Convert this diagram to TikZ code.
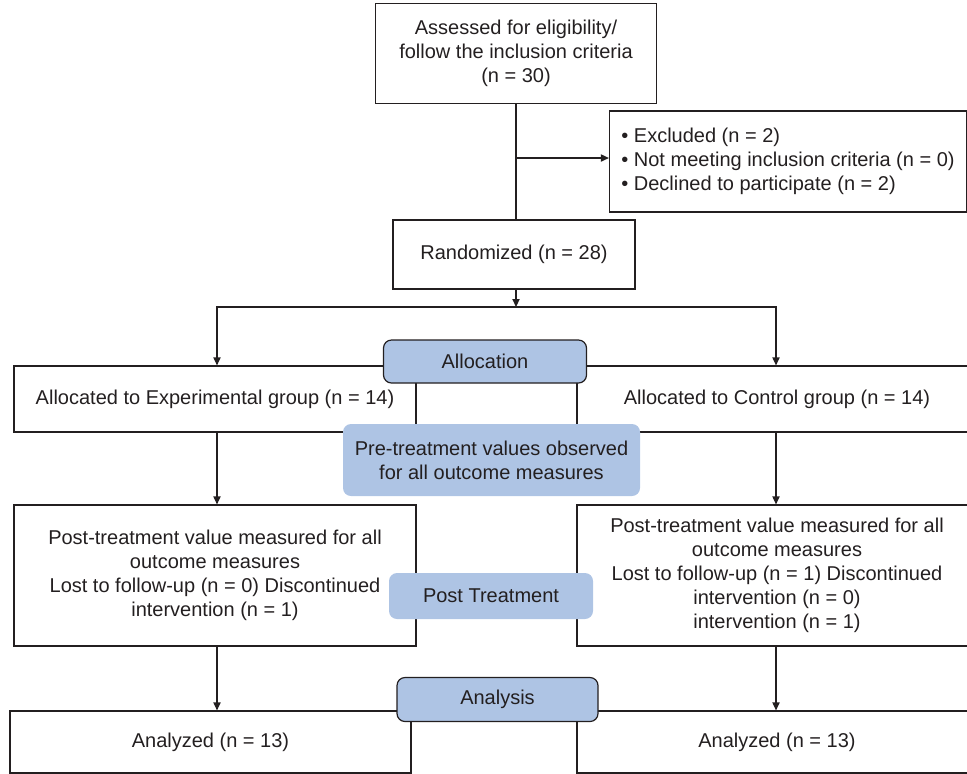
\documentclass[tikz,border=0pt]{standalone}
\usepackage{fontspec}
\setmainfont{Liberation Sans}
\usetikzlibrary{arrows.meta,positioning}
\definecolor{linec}{HTML}{231F20}
\definecolor{stagefill}{HTML}{AEC4E4}
\tikzset{
  box/.style={draw=linec, line width=0.6pt, align=center, inner sep=2pt,
              text=linec, font=\fontsize{10}{12}\selectfont},
  stage/.style={box, fill=stagefill, rounded corners=4pt},
  plainstage/.style={stage, draw=none},
  arrow/.style={-{Triangle[length=4pt,width=3.6pt]}, line width=0.6pt, draw=linec},
  link/.style={line width=0.6pt, draw=linec}
}

\begin{document}
\begin{tikzpicture}[x=0.5pt, y=-0.5pt]
  \clip (0,0) rectangle (967,773);
  % enrolment
  \node[box, minimum width=140.5pt, minimum height=50pt] (assess) at (516,53.5)
    {Assessed for eligibility/\\follow the inclusion criteria\\(n = 30)};
  \node[box, align=left, minimum width=178.5pt, minimum height=50.5pt] (excl) at (788,161.5)
    {\textbullet\ Excluded (n = 2)\\\textbullet\ Not meeting inclusion criteria (n = 0)\\\textbullet\ Declined to participate (n = 2)};
  \node[box, minimum width=121pt, minimum height=34.5pt] (rand) at (514,254.5)
    {Randomized (n = 28)};
  \coordinate (split) at (516,158);
  \coordinate (hub) at (516,307);
  \coordinate (lcol) at (217,0);
  \coordinate (rcol) at (776,0);
  % groups (right column runs past the page edge)
  \node[box, minimum width=201pt, minimum height=33pt] (exp) at (215,399)
    {Allocated to Experimental group (n = 14)};
  \node[box, minimum width=200pt, minimum height=33pt] (ctrl) at (777,399)
    {Allocated to Control group (n = 14)};
  \node[box, minimum width=201pt, minimum height=70.5pt] (exppost) at (215,575.5)
    {Post-treatment value measured for all\\outcome measures\\Lost to follow-up (n = 0) Discontinued\\intervention (n = 1)};
  \node[box, minimum width=200pt, minimum height=70.5pt] (ctrlpost) at (777,575.5)
    {Post-treatment value measured for all\\outcome measures\\Lost to follow-up (n = 1) Discontinued\\intervention (n = 0)\\intervention (n = 1)};
  \node[box, minimum width=200.5pt, minimum height=31pt] (expan) at (210.5,742)
    {Analyzed (n = 13)};
  \node[box, minimum width=200pt, minimum height=31pt] (ctrlan) at (777,742)
    {Analyzed (n = 13)};
  % connectors
  \draw[link] (assess.south) -- (assess.south |- rand.north);
  \draw[arrow] (split) -- (split -| excl.west);
  \draw[arrow] (hub |- rand.south) -- (hub);
  \draw[arrow] (hub) -| (lcol |- exp.north);
  \draw[arrow] (hub) -| (rcol |- ctrl.north);
  \draw[arrow] (lcol |- exp.south) -- (lcol |- exppost.north);
  \draw[arrow] (rcol |- ctrl.south) -- (rcol |- ctrlpost.north);
  \draw[arrow] (lcol |- exppost.south) -- (lcol |- expan.north);
  \draw[arrow] (rcol |- ctrlpost.south) -- (rcol |- ctrlan.north);
  % stage labels
  \node[stage, minimum width=101.5pt, minimum height=21.5pt] (alloc) at (485,361.5) {Allocation};
  \node[plainstage, minimum width=148.5pt, minimum height=36pt] (pretreat) at (491.5,460)
    {Pre-treatment values observed\\for all outcome measures};
  \node[plainstage, minimum width=102pt, minimum height=23pt] (post) at (491,596) {Post Treatment};
  \node[stage, minimum width=100.5pt, minimum height=22pt] (analysis) at (497.5,699.5) {Analysis};
\end{tikzpicture}
\end{document}
